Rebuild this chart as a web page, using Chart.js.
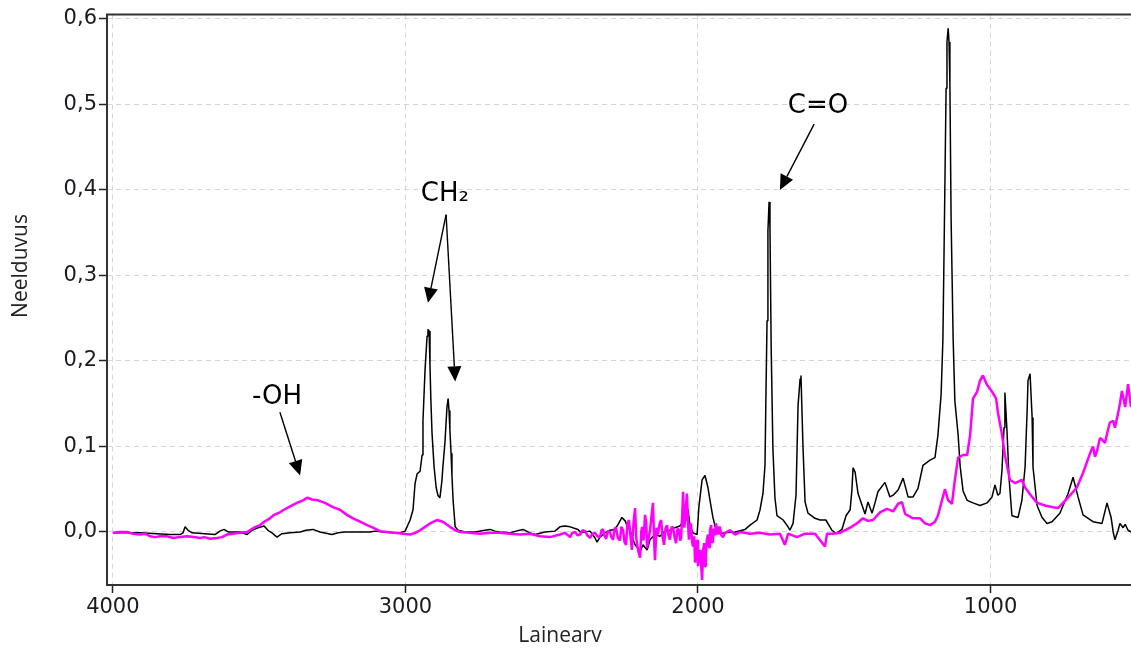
<!DOCTYPE html>
<html>
<head>
<meta charset="utf-8">
<title>IR spekter</title>
<script src="https://cdn.jsdelivr.net/npm/chart.js@4.4.1/dist/chart.umd.min.js"></script>
<style>
  html, body { margin: 0; padding: 0; background: #fff; }
  #spectrum { display: block; }
</style>
</head>
<body>
<canvas id="spectrum" width="1131" height="650"></canvas>
<script>
// sample spectrum (black)
const blackWavenumber = [
  4000, 3958, 3907, 3849, 3805, 3770, 3760, 3753, 3743, 3729, 3685, 3651, 3634, 3620, 3606, 3565,
  3541, 3524, 3504, 3483, 3470, 3456, 3439, 3422, 3394, 3360, 3340, 3316, 3292, 3251, 3230, 3207,
  3155, 3121, 3104, 3077, 3046, 3019, 3001, 2984, 2974, 2967, 2960, 2950, 2943, 2940, 2933, 2926,
  2923, 2919, 2916, 2913, 2909, 2902, 2895, 2889, 2882, 2875, 2872, 2865, 2858, 2854, 2851, 2848,
  2844, 2841, 2837, 2830, 2820, 2796, 2762, 2728, 2711, 2694, 2677, 2642, 2622, 2598, 2574, 2557,
  2523, 2489, 2472, 2455, 2437, 2410, 2400, 2369, 2352, 2345, 2335, 2318, 2301, 2284, 2273, 2260,
  2249, 2243, 2232, 2222, 2215, 2205, 2198, 2188, 2174, 2164, 2147, 2130, 2113, 2096, 2079, 2062,
  2051, 2041, 2034, 2027, 2017, 2003, 1997, 1986, 1976, 1966, 1959, 1949, 1938, 1925, 1908, 1873,
  1839, 1822, 1798, 1788, 1778, 1771, 1768, 1764, 1761, 1757, 1754, 1750, 1744, 1737, 1730, 1709,
  1692, 1686, 1675, 1665, 1658, 1651, 1648, 1641, 1634, 1624, 1600, 1583, 1563, 1542, 1528, 1508,
  1494, 1480, 1474, 1470, 1463, 1453, 1439, 1429, 1419, 1405, 1395, 1385, 1361, 1344, 1333, 1316,
  1299, 1282, 1265, 1248, 1231, 1207, 1190, 1180, 1169, 1163, 1159, 1152, 1149, 1145, 1142, 1139,
  1135, 1128, 1122, 1111, 1104, 1094, 1080, 1060, 1036, 1012, 995, 985, 975, 968, 961, 954,
  951, 944, 937, 927, 906, 893, 882, 875, 872, 865, 858, 855, 841, 824, 807, 790,
  763, 735, 718, 701, 684, 650, 619, 602, 588, 581, 575, 564, 558, 547, 540, 530, 520
];
const blackAbsorbance = [
  -0.001, -0.001, -0.001, -0.002, -0.003, -0.003, -0.001, 0.006, 0.002, -0.001, -0.002, -0.003, 0.001, 0.003, 0.000, 0.000,
  -0.003, 0.002, 0.005, 0.007, 0.002, -0.001, -0.006, -0.002, -0.001, 0.000, 0.002, 0.003, 0.000, -0.003, -0.001, 0.000,
  0.000, 0.000, 0.001, 0.000, -0.001, -0.001, 0.001, 0.014, 0.026, 0.057, 0.068, 0.071, 0.090, 0.130, 0.189, 0.229,
  0.237, 0.235, 0.194, 0.154, 0.115, 0.076, 0.052, 0.043, 0.040, 0.061, 0.076, 0.104, 0.146, 0.156, 0.142, 0.119,
  0.092, 0.066, 0.037, 0.006, 0.002, 0.000, 0.000, 0.002, 0.003, 0.001, 0.000, -0.001, 0.001, 0.003, -0.001, -0.003,
  0.000, 0.001, 0.006, 0.007, 0.006, 0.003, -0.001, 0.001, -0.007, -0.012, -0.006, -0.001, 0.002, 0.003, 0.009, 0.017,
  0.013, 0.008, 0.002, -0.009, -0.015, -0.019, -0.023, -0.015, -0.021, -0.009, -0.003, -0.005, 0.001, 0.002, 0.005, 0.007,
  0.012, 0.029, 0.026, 0.006, -0.001, -0.003, 0.029, 0.061, 0.066, 0.052, 0.037, 0.017, 0.002, -0.002, -0.001, 0.000,
  0.003, 0.008, 0.014, 0.026, 0.045, 0.078, 0.154, 0.247, 0.352, 0.386, 0.356, 0.219, 0.098, 0.040, 0.019, 0.014,
  0.006, 0.002, 0.010, 0.043, 0.148, 0.179, 0.183, 0.098, 0.035, 0.022, 0.016, 0.014, 0.014, 0.002, -0.002, 0.003,
  0.019, 0.026, 0.049, 0.075, 0.070, 0.045, 0.031, 0.021, 0.035, 0.022, 0.034, 0.047, 0.058, 0.041, 0.043, 0.049,
  0.063, 0.041, 0.041, 0.051, 0.078, 0.084, 0.087, 0.113, 0.161, 0.224, 0.327, 0.519, 0.573, 0.589, 0.573, 0.524,
  0.369, 0.227, 0.153, 0.114, 0.077, 0.048, 0.037, 0.034, 0.031, 0.034, 0.041, 0.055, 0.043, 0.045, 0.072, 0.122,
  0.163, 0.119, 0.064, 0.019, 0.017, 0.037, 0.076, 0.142, 0.177, 0.185, 0.134, 0.076, 0.031, 0.017, 0.010, 0.012,
  0.022, 0.045, 0.064, 0.041, 0.020, 0.012, 0.010, 0.034, 0.017, 0.000, -0.009, 0.002, 0.010, 0.005, 0.009, 0.002, 0.000
];

// reference spectrum (magenta)
const pinkWavenumber = [
  4000, 3976, 3952, 3931, 3907, 3890, 3873, 3856, 3839, 3815, 3794, 3770, 3747, 3723, 3702, 3688,
  3668, 3644, 3627, 3610, 3589, 3565, 3541, 3518, 3497, 3483, 3463, 3449, 3429, 3415, 3394, 3371,
  3350, 3336, 3319, 3299, 3275, 3248, 3224, 3200, 3179, 3155, 3131, 3111, 3087, 3063, 3036, 3008,
  2984, 2967, 2950, 2933, 2916, 2892, 2872, 2848, 2830, 2813, 2779, 2745, 2711, 2677, 2642, 2608,
  2574, 2540, 2506, 2472, 2455,
  // noisy stretch around the CO2 / diamond region
  2437, 2430, 2420, 2412, 2403, 2395, 2386, 2378, 2369, 2360,
  2352, 2344, 2335, 2330, 2325, 2320, 2314, 2308, 2301, 2296,
  2290, 2285, 2280, 2274, 2267, 2262, 2256, 2251, 2246, 2241,
  2236, 2231, 2226, 2220, 2215, 2211, 2208, 2203, 2198, 2194,
  2191, 2186, 2181, 2177, 2174, 2169, 2164, 2159, 2154, 2150,
  2147, 2142, 2137, 2131, 2126, 2121, 2116, 2111, 2106, 2101,
  2096, 2090, 2085, 2080, 2075, 2070, 2065, 2061, 2058, 2054,
  2051, 2047, 2044, 2041, 2038, 2034, 2031, 2027, 2024, 2020,
  2017, 2013, 2010, 2006, 2003, 2000, 1997, 1993, 1990, 1986,
  1982, 1979, 1976, 1973, 1970, 1966, 1962, 1959, 1955, 1952,
  1949, 1945, 1941, 1938, 1935, 1932, 1928, 1925, 1920, 1914,
  1908,
  1891, 1873, 1856, 1822, 1788, 1754, 1720, 1703, 1692, 1662,
  1634, 1600, 1566, 1559, 1539, 1515, 1480, 1457, 1436, 1419,
  1402, 1378, 1354, 1333, 1316, 1303, 1292, 1265, 1241, 1224,
  1207, 1190, 1180, 1166, 1156, 1145, 1132, 1122, 1111, 1094,
  1080, 1070, 1060, 1046, 1036, 1026, 1012, 995, 981, 975,
  961, 951, 934, 916, 893, 882, 858, 841, 814, 787,
  770, 752, 728, 705, 684, 660, 650, 643, 636, 626,
  616, 609, 599, 592, 581, 575, 564, 558, 551, 540,
  530, 520
];
const pinkAbsorbance = [
  -0.001, 0.000, 0.000, -0.002, -0.003, -0.002, -0.005, -0.006, -0.005, -0.005, -0.007, -0.006, -0.005, -0.006, -0.007, -0.006,
  -0.008, -0.007, -0.006, -0.003, -0.002, -0.001, 0.000, 0.005, 0.008, 0.012, 0.016, 0.020, 0.023, 0.026, 0.030, 0.034,
  0.037, 0.040, 0.038, 0.037, 0.034, 0.029, 0.026, 0.020, 0.016, 0.012, 0.008, 0.005, 0.001, 0.000, -0.001, -0.002,
  -0.003, -0.001, 0.002, 0.006, 0.010, 0.014, 0.012, 0.006, 0.002, 0.000, -0.001, -0.002, -0.001, -0.001, -0.002, -0.003,
  -0.002, -0.005, -0.006, -0.003, -0.001,
  -0.006, -0.001, 0.000, -0.004, -0.003, 0.002, 0.001, -0.004, -0.007, -0.002,
  -0.001, -0.005, -0.006, 0.002, 0.003, -0.004, -0.008, 0.001, 0.000, -0.006,
  -0.009, 0.004, 0.005, -0.007, -0.010, 0.006, 0.002, -0.012, -0.015, 0.010,
  0.014, -0.004, -0.021, 0.012, 0.028, -0.006, -0.015, -0.024, -0.030, 0.000,
  0.006, -0.010, 0.020, 0.010, -0.019, -0.008, 0.002, 0.018, 0.034, -0.010,
  -0.033, 0.005, -0.003, 0.010, 0.014, -0.006, -0.015, 0.004, 0.008, -0.004,
  -0.009, 0.006, 0.005, -0.006, -0.013, 0.004, 0.002, -0.010, -0.007, 0.018,
  0.047, 0.005, 0.014, 0.030, 0.045, 0.010, -0.009, 0.010, 0.008, -0.012,
  -0.017, -0.005, -0.036, -0.015, -0.009, -0.040, -0.027, -0.021, -0.035, -0.056,
  -0.020, -0.013, -0.040, -0.029, -0.010, -0.003, -0.018, 0.002, 0.008, -0.012,
  -0.009, 0.004, -0.004, 0.010, 0.001, -0.003, 0.006, 0.005, -0.004, -0.006,
  -0.001,
  0.002, -0.003, 0.000, -0.002, -0.001, -0.003, -0.002, -0.015, -0.002, -0.006,
  -0.002, -0.002, -0.017, -0.002, -0.002, -0.001, 0.005, 0.010, 0.016, 0.013,
  0.014, 0.023, 0.027, 0.024, 0.033, 0.035, 0.021, 0.016, 0.016, 0.010,
  0.008, 0.012, 0.019, 0.037, 0.050, 0.037, 0.033, 0.061, 0.087, 0.090,
  0.090, 0.113, 0.156, 0.164, 0.177, 0.183, 0.172, 0.164, 0.156, 0.140,
  0.114, 0.090, 0.061, 0.057, 0.061, 0.052, 0.041, 0.034, 0.031, 0.029,
  0.028, 0.034, 0.043, 0.052, 0.069, 0.092, 0.100, 0.088, 0.095, 0.110,
  0.107, 0.104, 0.119, 0.128, 0.130, 0.122, 0.139, 0.150, 0.165, 0.146,
  0.173, 0.146
];

const xTicks = [4000, 3000, 2000, 1000];
const yTicks = [0, 0.1, 0.2, 0.3, 0.4, 0.5, 0.6];

// band annotations: label anchor and arrows, in wavenumber / absorbance units
const bandLabels = [
  { text: "-OH", at: [3439, 0.157], arrows: [[[3429, 0.140], [3360, 0.066]]] },
  { text: "CH\u2082", at: [2865, 0.395], arrows: [[[2861, 0.371], [2923, 0.268]], [[2861, 0.371], [2830, 0.176]]] },
  { text: "C=O", at: [1590, 0.498], arrows: [[[1603, 0.477], [1720, 0.400]]] },
];

const toPoints = (xs, ys) => xs.map((x, i) => ({ x: x, y: ys[i] }));

function drawArrow(ctx, x0, y0, x1, y1) {
  const ang = Math.atan2(y1 - y0, x1 - x0);
  const len = 15, half = 7;
  const bx = x1 - len * Math.cos(ang);
  const by = y1 - len * Math.sin(ang);
  ctx.beginPath();
  ctx.moveTo(x0, y0);
  ctx.lineTo(bx, by);
  ctx.stroke();
  ctx.beginPath();
  ctx.moveTo(x1, y1);
  ctx.lineTo(bx + half * Math.sin(ang), by - half * Math.cos(ang));
  ctx.lineTo(bx - half * Math.sin(ang), by + half * Math.cos(ang));
  ctx.closePath();
  ctx.fill();
}

const frameAndBands = {
  id: "frameAndBands",
  afterDatasetsDraw(chart) {
    const { ctx, chartArea: a, scales } = chart;
    const sx = scales.x, sy = scales.y;
    ctx.save();

    // axis frame (left, bottom, top)
    ctx.strokeStyle = "#333";
    ctx.lineWidth = 2;
    ctx.beginPath();
    ctx.moveTo(a.right, a.top);
    ctx.lineTo(a.left, a.top);
    ctx.lineTo(a.left, a.bottom);
    ctx.lineTo(a.right, a.bottom);
    ctx.stroke();

    // band labels with arrows
    ctx.fillStyle = "#000";
    ctx.strokeStyle = "#000";
    ctx.lineWidth = 1.4;
    ctx.font = "26px 'DejaVu Sans'";
    ctx.textAlign = "center";
    ctx.textBaseline = "middle";
    bandLabels.forEach((b) => {
      ctx.fillText(b.text, sx.getPixelForValue(b.at[0]), sy.getPixelForValue(b.at[1]));
      b.arrows.forEach(([from, to]) => {
        drawArrow(ctx,
          sx.getPixelForValue(from[0]), sy.getPixelForValue(from[1]),
          sx.getPixelForValue(to[0]), sy.getPixelForValue(to[1]));
      });
    });

    // axis titles
    ctx.fillStyle = "#222";
    ctx.font = "21px 'Open Sans'";
    ctx.fillText("Lainearv", 560, 636);
    ctx.translate(21, 266);
    ctx.rotate(-Math.PI / 2);
    ctx.fillText("Neelduvus", 0, 0);
    ctx.restore();
  },
};

const tickFont = { family: "'DejaVu Sans'", size: 21 };

new Chart(document.getElementById("spectrum"), {
  type: "line",
  data: {
    datasets: [
      {
        label: "Võrdlus",
        data: toPoints(pinkWavenumber, pinkAbsorbance),
        borderColor: "#ff00ff",
        borderWidth: 2.5,
        borderJoinStyle: "bevel",
        pointRadius: 0,
        fill: false,
      },
      {
        label: "Proov",
        data: toPoints(blackWavenumber, blackAbsorbance),
        borderColor: "#000000",
        borderWidth: 1.5,
        borderJoinStyle: "bevel",
        pointRadius: 0,
        fill: false,
      },
    ],
  },
  options: {
    responsive: false,
    animation: false,
    devicePixelRatio: 1,
    layout: { padding: { top: 12, left: 0, right: 0, bottom: 0 } },
    plugins: {
      legend: { display: false },
      tooltip: { enabled: false },
    },
    elements: { line: { tension: 0 } },
    scales: {
      x: {
        type: "linear",
        reverse: true,
        min: 520,
        max: 4020,
        afterBuildTicks: (scale) => { scale.ticks = xTicks.map((v) => ({ value: v })); },
        afterFit: (scale) => { scale.height = 65; },
        ticks: {
          font: tickFont,
          color: "#1a1a22",
          padding: 2,
          maxRotation: 0,
          autoSkip: false,
          callback: (v) => String(v),
        },
        grid: {
          color: "#d6d6d6",
          lineWidth: 1,
          tickColor: "#222",
          tickLength: 8,
          tickWidth: 1.5,
          tickBorderDash: [],
        },
        border: { display: false, dash: [5, 4] },
      },
      y: {
        type: "linear",
        min: -0.062,
        max: 0.605,
        afterBuildTicks: (scale) => { scale.ticks = yTicks.map((v) => ({ value: v })); },
        afterFit: (scale) => { scale.width = 107; },
        ticks: {
          font: tickFont,
          color: "#1a1a22",
          padding: 2,
          callback: (v) => v.toFixed(1).replace(".", ","),
        },
        grid: {
          color: "#d6d6d6",
          lineWidth: 1,
          tickColor: "#222",
          tickLength: 8,
          tickWidth: 1.5,
          tickBorderDash: [],
        },
        border: { display: false, dash: [5, 4] },
      },
    },
  },
  plugins: [frameAndBands],
});
</script>
</body>
</html>
